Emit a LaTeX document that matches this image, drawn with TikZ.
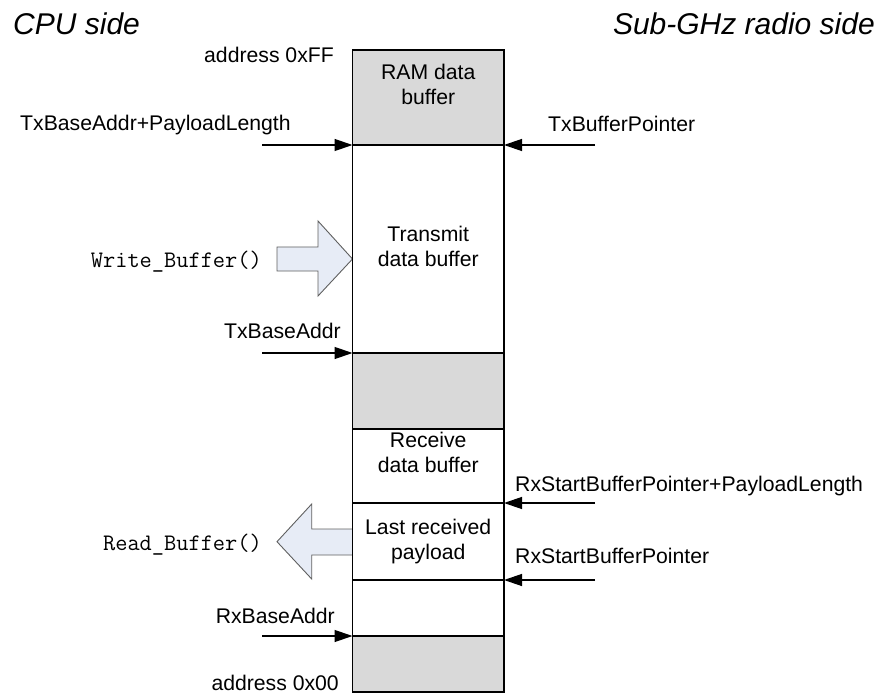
\documentclass[tikz,border=0pt]{standalone}
\usepackage{fontspec}
\setmainfont{Liberation Sans}
\usetikzlibrary{arrows.meta}
\definecolor{cellgray}{RGB}{217,217,217}
\definecolor{callfill}{RGB}{231,236,246}
\definecolor{calledge}{RGB}{95,95,95}
\begin{document}
\begin{tikzpicture}[x=1pt,y=-1pt,
  cell/.style={draw=black,line width=1.4pt,minimum width=151.5pt,inner sep=0pt,outer sep=0pt,anchor=north},
  lbl/.style={font=\fontsize{21.2}{25}\selectfont,inner sep=0pt},
  boxtext/.style={lbl,align=center,anchor=base},
  side/.style={font=\fontsize{30}{36}\selectfont\itshape,inner sep=0pt},
  call/.style={font=\ttfamily\fontsize{23.7}{28}\selectfont,inner sep=0pt,anchor=base east},
  ptr/.style={line width=1.3pt,-{Triangle[length=18pt,width=12pt]}},
  blockarrow/.style={fill=callfill,draw=calledge,line width=0.9pt,line join=miter}]
\useasboundingbox (0,0) rectangle (881,695);

% block arrows for the buffer access calls (drawn first, the memory column covers their edges)
\draw[blockarrow] (277,247) -- (318,247) -- (318,221) -- (352.5,259)
  -- (318,296) -- (318,271) -- (277,271) -- cycle;
\draw[blockarrow] (352.5,529) -- (311.7,529) -- (311.7,504) -- (277,541.7)
  -- (311.7,579) -- (311.7,555) -- (352.5,555) -- cycle;

% memory column, from address 0xFF down to 0x00
\node[cell,fill=cellgray,minimum height=95pt] (ram) at (428.25,50) {};
\node[cell,minimum height=208pt] (tx) at (ram.south) {};
\node[cell,fill=cellgray,minimum height=76pt] (gap) at (tx.south) {};
\node[cell,minimum height=74pt] (rx) at (gap.south) {};
\node[cell,minimum height=77pt] (last) at (rx.south) {};
\node[cell,minimum height=56pt] (free) at (last.south) {};
\node[cell,fill=cellgray,minimum height=56pt] (bottom) at (free.south) {};

% texts inside the column (anchored on the baseline of their last line)
\node[boxtext] (ramtext) at (428.25,105) {RAM data\\buffer};
\node[boxtext] (txtext) at (428.25,266.7) {Transmit\\data buffer};
\node[boxtext] (rxtext) at (428.25,472.7) {Receive\\data buffer};
\node[boxtext] (lasttext) at (428.25,559) {Last received\\payload};

% side headings
\node[side,anchor=base west] (cpu) at (13,35) {CPU side};
\node[side,anchor=base east] (radio) at (875,35) {Sub-GHz radio side};

% address limits
\node[lbl,anchor=base east] (addrtop) at (334,63) {address 0xFF};
\node[lbl,anchor=base east] (addrbot) at (339,690) {address 0x00};

% CPU side pointers
\coordinate (txplstart) at ([xshift=-90.5pt]ram.south west);
\coordinate (txbasestart) at ([xshift=-90.5pt]tx.south west);
\coordinate (rxbasestart) at ([xshift=-90.5pt]bottom.north west);
\draw[ptr] (txplstart) -- (ram.south west);
\draw[ptr] (txbasestart) -- (tx.south west);
\draw[ptr] (rxbasestart) -- (bottom.north west);
\node[lbl,anchor=base west] (txpl) at (20,131) {TxBaseAddr+PayloadLength};
\node[lbl,anchor=base east] (txbase) at (341,338) {TxBaseAddr};
\node[lbl,anchor=base east] (rxbase) at (335,623) {RxBaseAddr};

% radio side pointers
\coordinate (txptrstart) at ([xshift=91pt]ram.south east);
\coordinate (rxplstart) at ([xshift=91pt]last.north east);
\coordinate (rxptrstart) at ([xshift=91pt]last.south east);
\draw[ptr] (txptrstart) -- (ram.south east);
\draw[ptr] (rxplstart) -- (last.north east);
\draw[ptr] (rxptrstart) -- (last.south east);
\node[lbl,anchor=base west] (txptr) at (548,131.5) {TxBufferPointer};
\node[lbl,anchor=base west] (rxpl) at (515,491.5) {RxStartBufferPointer+PayloadLength};
\node[lbl,anchor=base west] (rxptr) at (515,563) {RxStartBufferPointer};

% buffer access calls
\node[call] (writecall) at (262,267) {Write\_Buffer()};
\node[call] (readcall) at (262,550) {Read\_Buffer()};
\end{tikzpicture}
\end{document}
